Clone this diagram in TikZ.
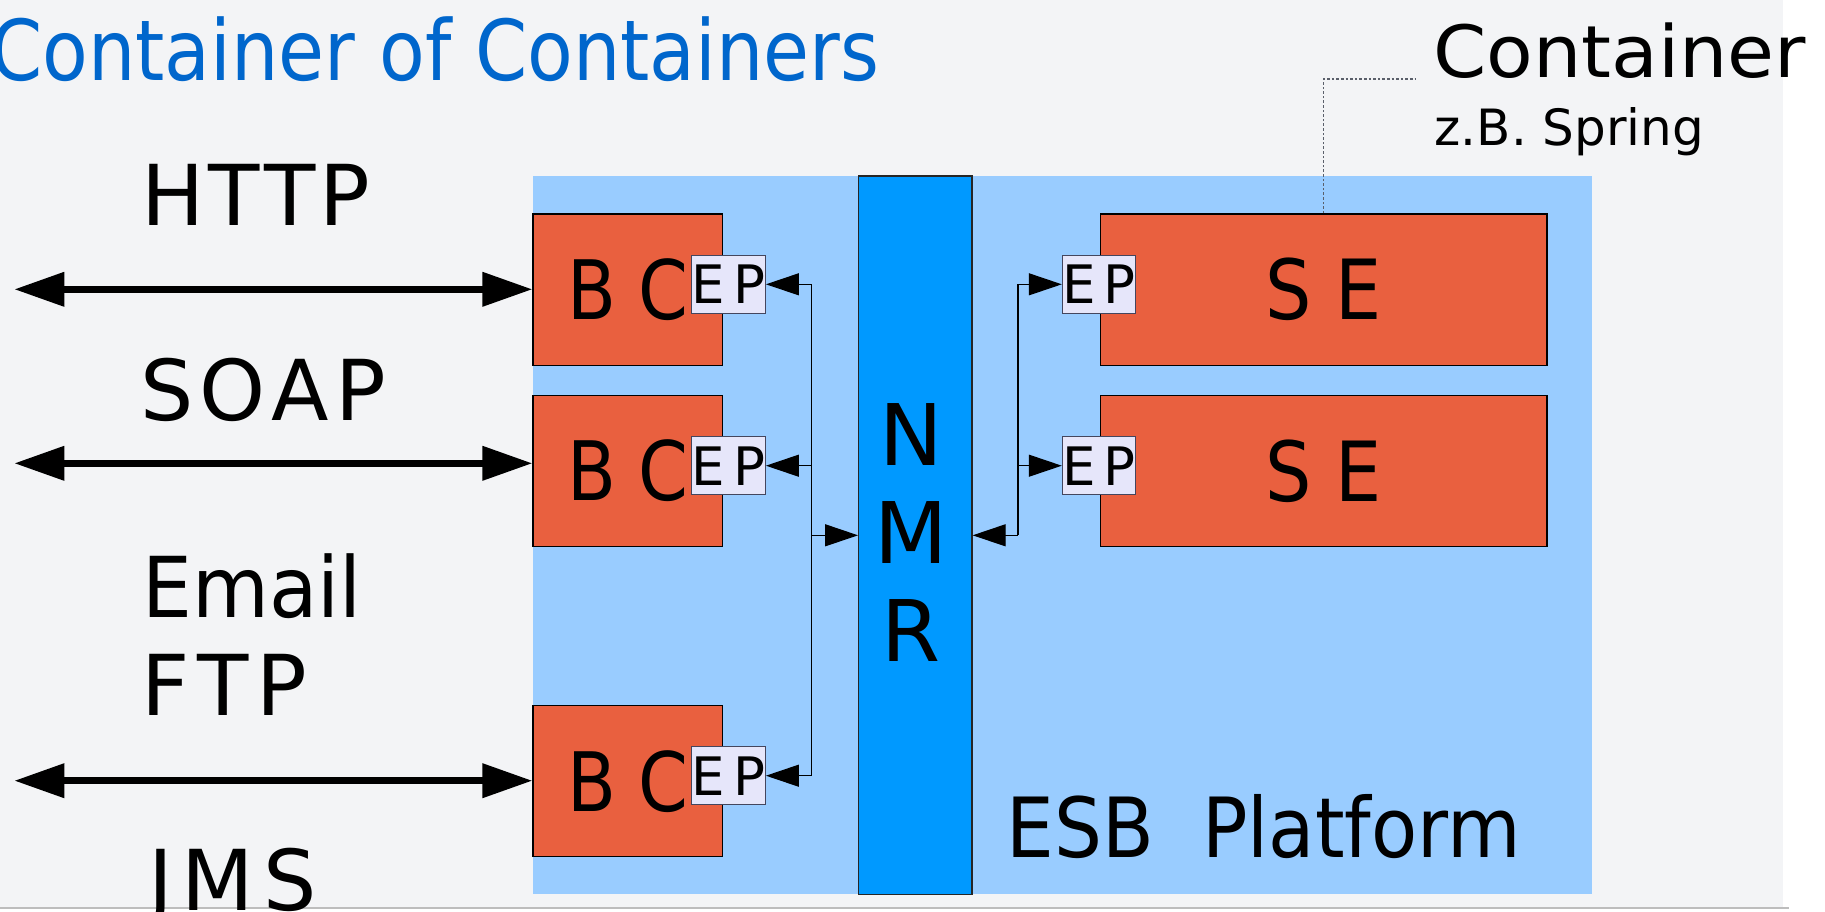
\documentclass[tikz,border=0pt]{standalone}
\usepackage{fontspec}
\setmainfont{DejaVu Sans}
\usetikzlibrary{arrows.meta}
\definecolor{pagebg}{HTML}{F3F4F6}
\definecolor{rulegray}{HTML}{BDBDBD}
\definecolor{platblue}{HTML}{99CCFF}
\definecolor{nmrblue}{HTML}{0099FF}
\definecolor{compred}{HTML}{E9603F}
\definecolor{epfill}{HTML}{E6E6FA}
\definecolor{epline}{HTML}{44465E}
\definecolor{titleblue}{HTML}{0066CC}
\definecolor{leadgray}{HTML}{5A5F6A}
% size (pt), horizontal scale, text
\newcommand\sizedtext[3]{\fontsize{#1}{#1}\selectfont\scalebox{#2}[1]{#3}}

\begin{document}
\begin{tikzpicture}[x=1pt,y=-1pt,
  comp/.style={draw=black, line width=1.3pt, fill=compred, inner sep=0pt},
  bcbox/.style={comp, minimum width=189.7pt, minimum height=151.2pt},
  sebox/.style={comp, minimum width=446.8pt, minimum height=151.2pt},
  epbox/.style={draw=epline, line width=1pt, fill=epfill, inner sep=0pt,
    minimum width=66.6pt, minimum height=58pt},
  label/.style={inner sep=0pt, anchor=base west},
  bigarrow/.style={line width=7pt,
    {Triangle[length=50pt,width=33pt]}-{Triangle[length=50pt,width=33pt]}},
  thinarrow/.style={line width=1.2pt, -{Triangle[length=33pt,width=22pt]}},
  leader/.style={draw=leadgray, line width=1.2pt, dash pattern=on 2.6pt off 2pt},
]
\useasboundingbox (0,0) rectangle (1825,911);
\fill[white] (0,0) rectangle (1825,911);
\fill[pagebg] (0,0) rectangle (1783,907);
\draw[rulegray, line width=2pt] (0,908) -- (1789,908);

% headings
\node[label, text=titleblue] (title) at (-10,80)
  {\sizedtext{84}{0.89}{Container of Containers}};
\node[label] (cont) at (1433,77) {\sizedtext{72}{1.06}{Container}};
\node[label] (spring) at (1434.5,145) {\sizedtext{50}{1}{z.B. Spring}};

% protocol labels
\node[label] (http) at (141.4,225)
  {\sizedtext{84}{1}{H\kern4pt T\kern4pt T\kern4pt P}};
\node[label] (soap) at (140,420.7)
  {\sizedtext{84}{1}{S\kern6pt O\kern6pt A\kern6pt P}};
\node[label] (email) at (142,617) {\sizedtext{84}{0.94}{Email}};
\node[label] (ftp) at (141,715)
  {\sizedtext{84}{1}{F\kern8pt T\kern8pt P}};
\node[label] (jms) at (148,910)
  {\sizedtext{84}{1}{J\kern9pt M\kern9pt S}};

% ESB platform
\fill[platblue] (533,176) rectangle (1592,894.3);
\node[label] (esb) at (1006.6,857.3) {\sizedtext{83}{0.91}{ESB\ \ Platform}};

% normalized message router
\node[draw=black!85, line width=1.3pt, fill=nmrblue, inner sep=0pt,
  minimum width=113.3pt, minimum height=718.3pt] (nmr) at (915.35,535.15) {};
\node[inner sep=0pt, align=center, font=\fontsize{85}{97.8}\selectfont]
  (nmrtext) at (911,532.8) {N\\M\\R};

% binding components
\node[bcbox] (bc1) at (627.9,289.7) {\sizedtext{82}{0.87}{B C}};
\node[bcbox] (bc2) at (627.9,471) {\sizedtext{82}{0.87}{B C}};
\node[bcbox] (bc3) at (627.9,781.2) {\sizedtext{82}{0.87}{B C}};

% service engines
\node[sebox] (se1) at (1323.6,289.7) {\sizedtext{83}{0.88}{S E}};
\node[sebox] (se2) at (1323.6,471) {\sizedtext{83}{0.88}{S E}};

% endpoints
\node[epbox] (ep1) at (728.7,284.3) {\sizedtext{53}{1}{E\kern8pt P}};
\node[epbox] (ep2) at (728.7,465.7) {\sizedtext{53}{1}{E\kern8pt P}};
\node[epbox] (ep3) at (728.7,775.7) {\sizedtext{53}{1}{E\kern8pt P}};
\node[epbox] (epr1) at (1099,284.3) {\sizedtext{53}{1}{E\kern8pt P}};
\node[epbox] (epr2) at (1099,465.7) {\sizedtext{53}{1}{E\kern8pt P}};

% external transports
\coordinate (out1) at (14.3,289.3);
\coordinate (out2) at (14.3,463.3);
\coordinate (out3) at (14.3,780.7);
\draw[bigarrow] (out1) -- (bc1.west |- out1);
\draw[bigarrow] (out2) -- (bc2.west |- out2);
\draw[bigarrow] (out3) -- (bc3.west |- out3);

% bus between endpoints and router
\coordinate (busl) at (811.7,535.3);
\coordinate (busr) at (1018,535.3);
\draw[thinarrow] (busl) |- (ep1.east);
\draw[thinarrow] (busl) |- (ep2.east);
\draw[thinarrow] (busl) |- (ep3.east);
\draw[thinarrow] (busl) -- (nmr.west |- busl);
\draw[thinarrow] (busr) |- (epr1.west);
\draw[thinarrow] (busr) |- (epr2.west);
\draw[thinarrow] (busr) -- (nmr.east |- busr);

% container callout
\coordinate (callout) at (1415,79);
\draw[leader] (se1.north) |- (callout);
\end{tikzpicture}
\end{document}
